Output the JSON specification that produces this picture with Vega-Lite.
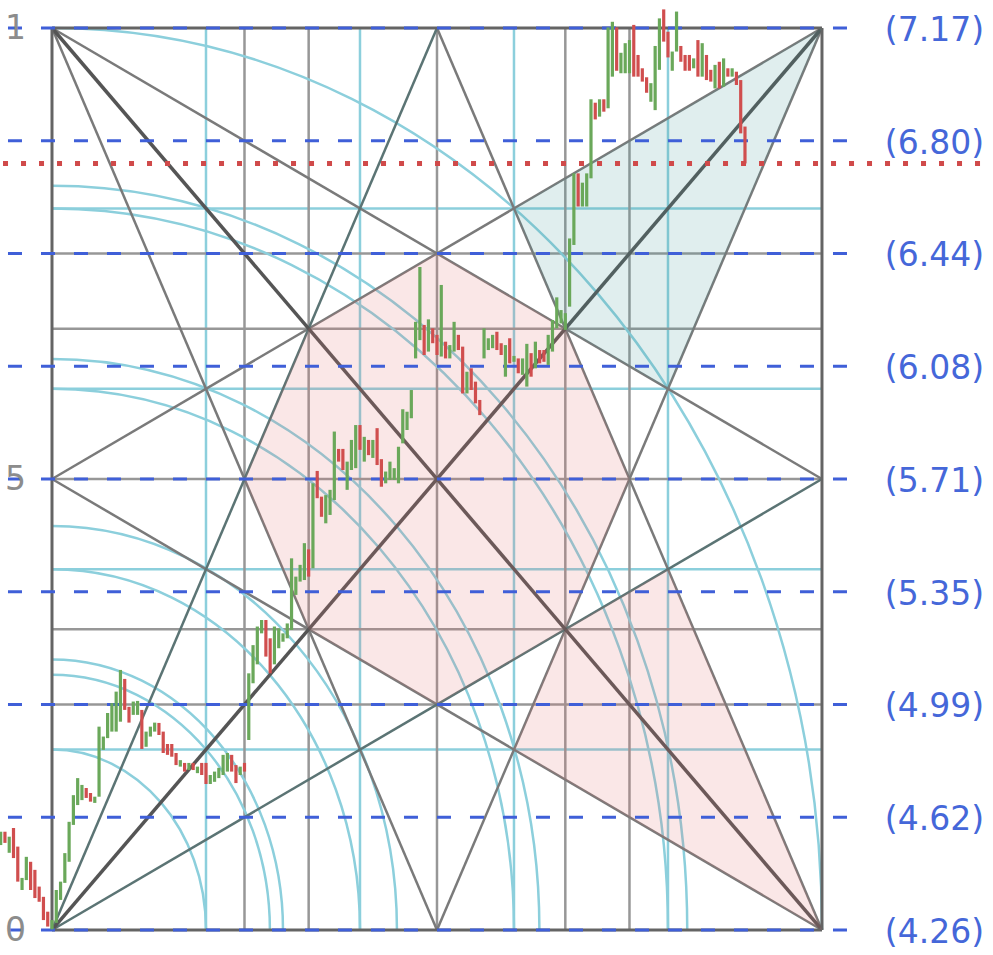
{
"$schema": "https://vega.github.io/schema/vega-lite/v6.json",
"width": 993, "height": 955, "autosize": {"type": "none"}, "padding": 0,
"background": "white",
"config": {"view": {"stroke": null}},
"datasets": {
"bars": [
{"i":0,"open":4.534,"close":4.577},{"i":1,"open":4.577,"close":4.541},{"i":2,"open":4.509,"close":4.561},{"i":3,"open":4.589,"close":4.492},{"i":4,"open":4.529,"close":4.416},
{"i":5,"open":4.389,"close":4.428},{"i":6,"open":4.421,"close":4.496},{"i":7,"open":4.480,"close":4.389},{"i":8,"open":4.454,"close":4.363},{"i":9,"open":4.400,"close":4.351},
{"i":10,"open":4.367,"close":4.292},{"i":11,"open":4.319,"close":4.271},{"i":12,"open":4.262,"close":4.292},{"i":13,"open":4.283,"close":4.389},{"i":14,"open":4.357,"close":4.416},
{"i":15,"open":4.412,"close":4.508},{"i":16,"open":4.480,"close":4.609},{"i":17,"open":4.599,"close":4.695},{"i":18,"open":4.663,"close":4.750},{"i":19,"open":4.679,"close":4.728},
{"i":20,"open":4.718,"close":4.686},{"i":21,"open":4.702,"close":4.674},{"i":22,"open":4.670,"close":4.690},{"i":23,"open":4.690,"close":4.916},{"i":24,"open":4.841,"close":4.884},
{"i":25,"open":4.879,"close":4.960},{"i":26,"open":4.900,"close":4.992},{"i":27,"open":4.900,"close":5.029},{"i":28,"open":4.932,"close":5.099},{"i":29,"open":5.070,"close":4.970},
{"i":30,"open":4.980,"close":4.929},{"i":31,"open":4.954,"close":4.997},{"i":32,"open":4.954,"close":4.999},{"i":33,"open":4.970,"close":4.844},{"i":34,"open":4.851,"close":4.900},
{"i":35,"open":4.884,"close":4.916},{"i":36,"open":4.900,"close":4.929},{"i":37,"open":4.928,"close":4.889},{"i":38,"open":4.900,"close":4.831},{"i":39,"open":4.860,"close":4.825},
{"i":40,"open":4.860,"close":4.819},{"i":41,"open":4.831,"close":4.792},{"i":42,"open":4.787,"close":4.808},{"i":43,"open":4.799,"close":4.771},{"i":44,"open":4.776,"close":4.799},
{"i":45,"open":4.799,"close":4.776},{"i":46,"open":4.766,"close":4.787},{"i":47,"open":4.799,"close":4.760},{"i":48,"open":4.799,"close":4.731},{"i":49,"open":4.731,"close":4.760},
{"i":50,"open":4.738,"close":4.771},{"i":51,"open":4.750,"close":4.783},{"i":52,"open":4.760,"close":4.825},{"i":53,"open":4.771,"close":4.831},{"i":54,"open":4.825,"close":4.771},
{"i":55,"open":4.792,"close":4.734},{"i":56,"open":4.760,"close":4.787},{"i":57,"open":4.799,"close":4.771},{"i":58,"open":4.873,"close":5.088},{"i":59,"open":5.056,"close":5.179},
{"i":60,"open":5.117,"close":5.239},{"i":61,"open":5.217,"close":5.260},{"i":62,"open":5.260,"close":5.142},{"i":63,"open":5.201,"close":5.088},{"i":64,"open":5.117,"close":5.239},
{"i":65,"open":5.169,"close":5.233},{"i":66,"open":5.190,"close":5.217},{"i":67,"open":5.201,"close":5.249},{"i":68,"open":5.228,"close":5.459},{"i":69,"open":5.341,"close":5.400},
{"i":70,"open":5.384,"close":5.438},{"i":71,"open":5.389,"close":5.508},{"i":72,"open":5.488,"close":5.400},{"i":73,"open":5.427,"close":5.701},{"i":74,"open":5.741,"close":5.653},
{"i":75,"open":5.658,"close":5.593},{"i":76,"open":5.572,"close":5.663},{"i":77,"open":5.599,"close":5.680},{"i":78,"open":5.647,"close":5.868},{"i":79,"open":5.812,"close":5.771},
{"i":80,"open":5.812,"close":5.744},{"i":81,"open":5.680,"close":5.771},{"i":82,"open":5.744,"close":5.841},{"i":83,"open":5.750,"close":5.889},{"i":84,"open":5.889,"close":5.809},
{"i":85,"open":5.771,"close":5.851},{"i":86,"open":5.841,"close":5.792},{"i":87,"open":5.783,"close":5.841},{"i":88,"open":5.879,"close":5.760},{"i":89,"open":5.779,"close":5.690},
{"i":90,"open":5.701,"close":5.739},{"i":91,"open":5.712,"close":5.771},{"i":92,"open":5.712,"close":5.750},{"i":93,"open":5.701,"close":5.819},{"i":94,"open":5.830,"close":5.940},
{"i":95,"open":5.873,"close":5.932},{"i":96,"open":5.911,"close":6.002},{"i":97,"open":6.104,"close":6.222},{"i":98,"open":6.163,"close":6.399},{"i":99,"open":6.212,"close":6.115},
{"i":100,"open":6.126,"close":6.230},{"i":101,"open":6.201,"close":6.153},{"i":102,"open":6.180,"close":6.115},{"i":103,"open":6.110,"close":6.341},{"i":104,"open":6.158,"close":6.104},
{"i":105,"open":6.104,"close":6.147},{"i":106,"open":6.126,"close":6.222},{"i":107,"open":6.180,"close":6.131},{"i":108,"open":6.142,"close":5.991},{"i":109,"open":5.991,"close":6.061},
{"i":110,"open":6.072,"close":6.002},{"i":111,"open":6.029,"close":5.959},{"i":112,"open":5.970,"close":5.921},{"i":113,"open":6.104,"close":6.201},{"i":114,"open":6.131,"close":6.169},
{"i":115,"open":6.137,"close":6.180},{"i":116,"open":6.190,"close":6.131},{"i":117,"open":6.153,"close":6.115},{"i":118,"open":6.045,"close":6.147},{"i":119,"open":6.169,"close":6.088},
{"i":120,"open":6.093,"close":6.112},{"i":121,"open":6.104,"close":6.056},{"i":122,"open":6.051,"close":6.104},{"i":123,"open":6.013,"close":6.151},{"i":124,"open":6.121,"close":6.045},
{"i":125,"open":6.072,"close":6.158},{"i":126,"open":6.131,"close":6.088},{"i":127,"open":6.131,"close":6.093},{"i":128,"open":6.083,"close":6.180},{"i":129,"open":6.126,"close":6.228},
{"i":130,"open":6.201,"close":6.301},{"i":131,"open":6.217,"close":6.260},{"i":132,"open":6.196,"close":6.250},{"i":133,"open":6.271,"close":6.491},{"i":134,"open":6.470,"close":6.701},
{"i":135,"open":6.701,"close":6.594},{"i":136,"open":6.594,"close":6.671},{"i":137,"open":6.594,"close":6.701},{"i":138,"open":6.685,"close":6.940},{"i":139,"open":6.929,"close":6.875},
{"i":140,"open":6.884,"close":6.940},{"i":141,"open":6.940,"close":6.900},{"i":142,"open":6.911,"close":7.172},{"i":143,"open":7.013,"close":7.190},{"i":144,"open":7.172,"close":7.032},
{"i":145,"open":7.024,"close":7.090},{"i":146,"open":7.024,"close":7.121},{"i":147,"open":7.024,"close":7.131},{"i":148,"open":7.180,"close":7.013},{"i":149,"open":7.083,"close":7.013},
{"i":150,"open":7.040,"close":6.997},{"i":151,"open":7.011,"close":6.961},{"i":152,"open":6.932,"close":6.992},{"i":153,"open":6.905,"close":7.112},{"i":154,"open":7.035,"close":7.201},
{"i":155,"open":7.230,"close":7.126},{"i":156,"open":7.158,"close":7.075},{"i":157,"open":7.032,"close":7.094},{"i":158,"open":7.094,"close":7.223},{"i":159,"open":7.112,"close":7.061},
{"i":160,"open":7.083,"close":7.032},{"i":161,"open":7.083,"close":7.032},{"i":162,"open":7.040,"close":7.072},{"i":163,"open":7.131,"close":7.013},{"i":164,"open":7.013,"close":7.121},
{"i":165,"open":7.083,"close":7.002},{"i":166,"open":7.035,"close":6.997},{"i":167,"open":6.975,"close":7.051},{"i":168,"open":7.061,"close":6.975},{"i":169,"open":6.981,"close":7.072},
{"i":170,"open":7.040,"close":7.013},{"i":171,"open":7.013,"close":7.040},{"i":172,"open":7.029,"close":6.986},{"i":173,"open":7.002,"close":6.830},{"i":174,"open":6.852,"close":6.733}
],
"lines": [
{"kind":"cyan","x1":48,"y1":4.26,"x2":48,"y2":7.17},{"kind":"cyan","x1":84,"y1":4.26,"x2":84,"y2":7.17},{"kind":"cyan","x1":120,"y1":4.26,"x2":120,"y2":7.17},{"kind":"cyan","x1":156,"y1":4.26,"x2":156,"y2":7.17},
{"kind":"cyan","x1":12,"y1":4.842,"x2":192,"y2":4.842},{"kind":"cyan","x1":12,"y1":5.424,"x2":192,"y2":5.424},{"kind":"cyan","x1":12,"y1":6.006,"x2":192,"y2":6.006},{"kind":"cyan","x1":12,"y1":6.588,"x2":192,"y2":6.588},
{"kind":"grid","x1":57,"y1":4.26,"x2":57,"y2":7.17},{"kind":"grid","x1":72,"y1":4.26,"x2":72,"y2":7.17},{"kind":"grid","x1":102,"y1":4.26,"x2":102,"y2":7.17},{"kind":"grid","x1":132,"y1":4.26,"x2":132,"y2":7.17},{"kind":"grid","x1":147,"y1":4.26,"x2":147,"y2":7.17},
{"kind":"grid","x1":12,"y1":4.9875,"x2":192,"y2":4.9875},{"kind":"grid","x1":12,"y1":5.23,"x2":192,"y2":5.23},{"kind":"grid","x1":12,"y1":5.715,"x2":192,"y2":5.715},{"kind":"grid","x1":12,"y1":6.2,"x2":192,"y2":6.2},{"kind":"grid","x1":12,"y1":6.4425,"x2":192,"y2":6.4425},
{"kind":"fan","x1":12,"y1":7.17,"x2":102,"y2":4.26},{"kind":"fan","x1":12,"y1":7.17,"x2":192,"y2":5.715},
{"kind":"fan","x1":192,"y1":7.17,"x2":102,"y2":4.26},{"kind":"fan","x1":192,"y1":7.17,"x2":12,"y2":5.715},
{"kind":"fan","x1":192,"y1":4.26,"x2":102,"y2":7.17},{"kind":"fan","x1":192,"y1":4.26,"x2":12,"y2":5.715},
{"kind":"fanBL","x1":12,"y1":4.26,"x2":102,"y2":7.17},{"kind":"fanBL","x1":12,"y1":4.26,"x2":192,"y2":5.715},
{"kind":"diag","x1":12,"y1":4.26,"x2":192,"y2":7.17},{"kind":"diag","x1":12,"y1":7.17,"x2":192,"y2":4.26},
{"kind":"border","x1":12,"y1":4.26,"x2":192,"y2":4.26},{"kind":"border","x1":12,"y1":7.17,"x2":192,"y2":7.17},{"kind":"border","x1":12,"y1":4.26,"x2":12,"y2":7.17},{"kind":"border","x1":192,"y1":4.26,"x2":192,"y2":7.17}
],
"arcs": [{"r":0.2},{"r":0.283},{"r":0.3},{"r":0.4},{"r":0.448},{"r":0.6},{"r":0.633},{"r":0.8},{"r":0.825},{"r":1.0}],
"fills": [
{"shape":"octagon","t":57,"top":5.715,"bottom":5.715},{"shape":"octagon","t":72,"top":6.2,"bottom":5.23},{"shape":"octagon","t":102,"top":6.4425,"bottom":4.9875},{"shape":"octagon","t":132,"top":6.2,"bottom":5.23},{"shape":"octagon","t":147,"top":5.715,"bottom":5.715},
{"shape":"kiteHigh","t":120,"top":6.588,"bottom":6.588},{"shape":"kiteHigh","t":132,"top":6.685,"bottom":6.2},{"shape":"kiteHigh","t":156,"top":6.879,"bottom":6.006},{"shape":"kiteHigh","t":192,"top":7.17,"bottom":7.17},
{"shape":"kiteLow","t":120,"top":4.842,"bottom":4.842},{"shape":"kiteLow","t":132,"top":5.23,"bottom":4.745},{"shape":"kiteLow","t":156,"top":5.424,"bottom":4.551},{"shape":"kiteLow","t":192,"top":4.26,"bottom":4.26}
],
"levels": [
{"level":4.26,"label":"(4.26)"},{"level":4.62375,"label":"(4.62)"},{"level":4.9875,"label":"(4.99)"},{"level":5.35125,"label":"(5.35)"},{"level":5.715,"label":"(5.71)"},
{"level":6.07875,"label":"(6.08)"},{"level":6.4425,"label":"(6.44)"},{"level":6.80625,"label":"(6.80)"},{"level":7.17,"label":"(7.17)"}
],
"ticks": [{"level":7.17,"label":"1"},{"level":5.715,"label":"5"},{"level":4.26,"label":"0"}],
"last": [{"price":6.733}]
},
"layer": [
{"data":{"name":"lines"},"transform":[{"filter":"datum.kind == 'cyan'"}],
 "mark":{"type":"rule","color":"#8ccfdc","strokeWidth":2.5},
 "encoding":{"x":{"field":"x1","type":"quantitative","scale":{"domain":[-0.156,231.98],"nice":false,"zero":false},"axis":null},
  "y":{"field":"y1","type":"quantitative","scale":{"domain":[4.1793,7.2603],"nice":false,"zero":false},"axis":null},
  "x2":{"field":"x2"},"y2":{"field":"y2"}}},
{"data":{"name":"lines"},"transform":[{"filter":"datum.kind == 'grid'"}],
 "mark":{"type":"rule","color":"#979797","strokeWidth":2.5},
 "encoding":{"x":{"field":"x1","type":"quantitative","scale":{"domain":[-0.156,231.98],"nice":false,"zero":false},"axis":null},
  "y":{"field":"y1","type":"quantitative","scale":{"domain":[4.1793,7.2603],"nice":false,"zero":false},"axis":null},
  "x2":{"field":"x2"},"y2":{"field":"y2"}}},
{"data":{"name":"arcs"},
 "mark":{"type":"point","shape":"M 0 -1 A 0.853659 1 0 0 1 0.853659 0","filled":false,"color":"#8ccfdc","strokeWidth":2.5,"opacity":1},
 "encoding":{"x":{"datum":12,"type":"quantitative","scale":{"domain":[-0.156,231.98],"nice":false,"zero":false},"axis":null},
  "y":{"datum":4.26,"type":"quantitative","scale":{"domain":[4.1793,7.2603],"nice":false,"zero":false},"axis":null},
  "size":{"field":"r","type":"quantitative","scale":{"type":"pow","exponent":2,"domain":[0,1],"range":[0,3254416]},"legend":null}}},
{"data":{"name":"lines"},"transform":[{"filter":"datum.kind == 'fan'"}],
 "mark":{"type":"rule","color":"#7a7a7a","strokeWidth":2.5},
 "encoding":{"x":{"field":"x1","type":"quantitative","scale":{"domain":[-0.156,231.98],"nice":false,"zero":false},"axis":null},
  "y":{"field":"y1","type":"quantitative","scale":{"domain":[4.1793,7.2603],"nice":false,"zero":false},"axis":null},
  "x2":{"field":"x2"},"y2":{"field":"y2"}}},
{"data":{"name":"lines"},"transform":[{"filter":"datum.kind == 'fanBL'"}],
 "mark":{"type":"rule","color":"#5b7474","strokeWidth":2.5},
 "encoding":{"x":{"field":"x1","type":"quantitative","scale":{"domain":[-0.156,231.98],"nice":false,"zero":false},"axis":null},
  "y":{"field":"y1","type":"quantitative","scale":{"domain":[4.1793,7.2603],"nice":false,"zero":false},"axis":null},
  "x2":{"field":"x2"},"y2":{"field":"y2"}}},
{"data":{"name":"lines"},"transform":[{"filter":"datum.kind == 'diag'"}],
 "mark":{"type":"rule","color":"#555555","strokeWidth":3.5},
 "encoding":{"x":{"field":"x1","type":"quantitative","scale":{"domain":[-0.156,231.98],"nice":false,"zero":false},"axis":null},
  "y":{"field":"y1","type":"quantitative","scale":{"domain":[4.1793,7.2603],"nice":false,"zero":false},"axis":null},
  "x2":{"field":"x2"},"y2":{"field":"y2"}}},
{"data":{"name":"lines"},"transform":[{"filter":"datum.kind == 'border'"}],
 "mark":{"type":"rule","color":"#646464","strokeWidth":3},
 "encoding":{"x":{"field":"x1","type":"quantitative","scale":{"domain":[-0.156,231.98],"nice":false,"zero":false},"axis":null},
  "y":{"field":"y1","type":"quantitative","scale":{"domain":[4.1793,7.2603],"nice":false,"zero":false},"axis":null},
  "x2":{"field":"x2"},"y2":{"field":"y2"}}},
{"data":{"name":"fills"},
 "mark":{"type":"area","opacity":0.17,"interpolate":"linear"},
 "encoding":{"x":{"field":"t","type":"quantitative","scale":{"domain":[-0.156,231.98],"nice":false,"zero":false},"axis":null},
  "y":{"field":"top","type":"quantitative","stack":null,"scale":{"domain":[4.1793,7.2603],"nice":false,"zero":false},"axis":null},
  "y2":{"field":"bottom"},
  "color":{"field":"shape","type":"nominal","scale":{"domain":["octagon","kiteLow","kiteHigh"],"range":["#e07070","#e07070","#4a9a9a"]},"legend":null}}},
{"data":{"name":"levels"},
 "mark":{"type":"rule","color":"#3f5fd8","strokeWidth":3,"strokeDash":[14,19]},
 "encoding":{"x":{"datum":1.71,"type":"quantitative","scale":{"domain":[-0.156,231.98],"nice":false,"zero":false},"axis":null},
  "x2":{"datum":198.55},
  "y":{"field":"level","type":"quantitative","scale":{"domain":[4.1793,7.2603],"nice":false,"zero":false},"axis":null}}},
{"data":{"name":"bars"},
 "mark":{"type":"rule","strokeWidth":3.2},
 "encoding":{"x":{"field":"i","type":"quantitative","scale":{"domain":[-0.156,231.98],"nice":false,"zero":false},"axis":null},
  "y":{"field":"open","type":"quantitative","scale":{"domain":[4.1793,7.2603],"nice":false,"zero":false},"axis":null},
  "y2":{"field":"close"},
  "color":{"condition":{"test":"datum.close >= datum.open","value":"#6aa85a"},"value":"#d04e4e"}}},
{"data":{"name":"last"},
 "mark":{"type":"rule","color":"#d04a4a","strokeWidth":5,"strokeDash":[5,13]},
 "encoding":{"x":{"datum":0.55,"type":"quantitative","scale":{"domain":[-0.156,231.98],"nice":false,"zero":false},"axis":null},
  "x2":{"datum":230.1},
  "y":{"field":"price","type":"quantitative","scale":{"domain":[4.1793,7.2603],"nice":false,"zero":false},"axis":null}}},
{"data":{"name":"levels"},
 "mark":{"type":"text","align":"left","baseline":"middle","dy":3,"font":"DejaVu Sans","fontSize":33,"color":"#4567d9"},
 "encoding":{"x":{"datum":206.7,"type":"quantitative","scale":{"domain":[-0.156,231.98],"nice":false,"zero":false},"axis":null},
  "y":{"field":"level","type":"quantitative","scale":{"domain":[4.1793,7.2603],"nice":false,"zero":false},"axis":null},
  "text":{"field":"label"}}},
{"data":{"name":"ticks"},
 "mark":{"type":"text","align":"left","baseline":"middle","dy":1,"font":"DejaVu Sans","fontSize":33,"color":"#8c8c8c"},
 "encoding":{"x":{"datum":1.01,"type":"quantitative","scale":{"domain":[-0.156,231.98],"nice":false,"zero":false},"axis":null},
  "y":{"field":"level","type":"quantitative","scale":{"domain":[4.1793,7.2603],"nice":false,"zero":false},"axis":null},
  "text":{"field":"label"}}}
]
}
